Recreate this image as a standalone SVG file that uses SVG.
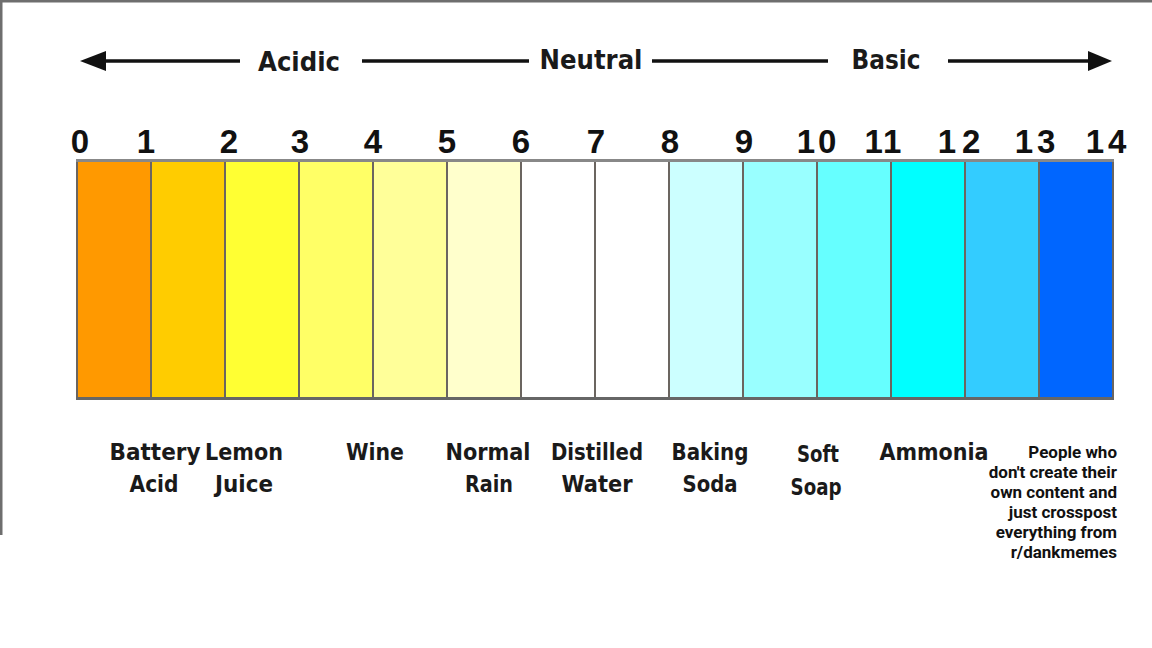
<svg xmlns="http://www.w3.org/2000/svg" width="1152" height="648" viewBox="0 0 1152 648">
<style>
.cell{stroke:#6b6560;stroke-width:2}
.num{font-family:"Liberation Sans",Arial,sans-serif;font-weight:bold;font-size:33px;fill:#111;text-anchor:middle}
.hdr{font-family:"DejaVu Sans Condensed","DejaVu Sans",sans-serif;font-weight:bold;font-size:27px;fill:#1a1a1a;text-anchor:middle}
.lbl{font-family:"DejaVu Sans Condensed","DejaVu Sans",sans-serif;font-weight:bold;font-size:23px;fill:#1a1a1a;text-anchor:middle}
.meme{font-family:Roboto,"Liberation Sans",sans-serif;font-weight:bold;font-size:17px;fill:#111;text-anchor:end}
.ln{stroke:#111;stroke-width:3.5;fill:none}
</style>
<rect width="1152" height="648" fill="#fff"/>
<g id="frame">
<rect x="0" y="0" width="1152" height="2.5" fill="#6e6e6e"/>
<rect x="0" y="0" width="2.5" height="535" fill="#6e6e6e"/>
</g>
<g id="connectors">
<line class="ln" x1="100" y1="61" x2="240" y2="61"/>
<polygon points="80,61 106,51 106,71" fill="#111"/>
<line class="ln" x1="362" y1="61" x2="529" y2="61"/>
<line class="ln" x1="652" y1="61" x2="828" y2="61"/>
<line class="ln" x1="948" y1="61" x2="1094" y2="61"/>
<polygon points="1112,61 1088,51 1088,71" fill="#111"/>
</g>
<g id="headers">
<text class="hdr" x="299" y="71" textLength="82" lengthAdjust="spacingAndGlyphs">Acidic</text>
<text class="hdr" x="591" y="69" textLength="103" lengthAdjust="spacingAndGlyphs">Neutral</text>
<text class="hdr" x="886" y="69" textLength="69" lengthAdjust="spacingAndGlyphs">Basic</text>
</g>
<g id="scale">
<rect class="cell" x="77" y="161" width="74" height="238" fill="#ff9900"/>
<rect class="cell" x="151" y="161" width="74" height="238" fill="#ffcc00"/>
<rect class="cell" x="225" y="161" width="74" height="238" fill="#ffff33"/>
<rect class="cell" x="299" y="161" width="74" height="238" fill="#ffff66"/>
<rect class="cell" x="373" y="161" width="74" height="238" fill="#ffff99"/>
<rect class="cell" x="447" y="161" width="74" height="238" fill="#ffffcc"/>
<rect class="cell" x="521" y="161" width="74" height="238" fill="#ffffff"/>
<rect class="cell" x="595" y="161" width="74" height="238" fill="#ffffff"/>
<rect class="cell" x="669" y="161" width="74" height="238" fill="#ccffff"/>
<rect class="cell" x="743" y="161" width="74" height="238" fill="#99ffff"/>
<rect class="cell" x="817" y="161" width="74" height="238" fill="#66ffff"/>
<rect class="cell" x="891" y="161" width="74" height="238" fill="#00ffff"/>
<rect class="cell" x="965" y="161" width="74" height="238" fill="#33ccff"/>
<rect class="cell" x="1039" y="161" width="74" height="238" fill="#0066ff"/>
<line x1="76" y1="160.5" x2="1114" y2="160.5" stroke="#888" stroke-width="3"/>
<line x1="76" y1="398.5" x2="1114" y2="398.5" stroke="#666" stroke-width="3"/>
</g>
<g id="numbers">
<text class="num" x="80" y="153">0</text>
<text class="num" x="146" y="153">1</text>
<text class="num" x="229" y="153">2</text>
<text class="num" x="300" y="153">3</text>
<text class="num" x="373" y="153">4</text>
<text class="num" x="447" y="153">5</text>
<text class="num" x="521" y="153">6</text>
<text class="num" x="596" y="153">7</text>
<text class="num" x="670" y="153">8</text>
<text class="num" x="744" y="153">9</text>
<text class="num" x="818" y="153" letter-spacing="3">10</text>
<text class="num" x="884" y="153" letter-spacing="2">11</text>
<text class="num" x="962" y="153" letter-spacing="6">12</text>
<text class="num" x="1037" y="153" letter-spacing="4">13</text>
<text class="num" x="1108" y="153" letter-spacing="4">14</text>
</g>
<g id="label-battery-acid">
<text class="lbl" x="155" y="460" textLength="91" lengthAdjust="spacingAndGlyphs">Battery</text>
<text class="lbl" x="154" y="492" textLength="49" lengthAdjust="spacingAndGlyphs">Acid</text>
</g>
<g id="label-lemon-juice">
<text class="lbl" x="244" y="460" textLength="78" lengthAdjust="spacingAndGlyphs">Lemon</text>
<text class="lbl" x="244" y="492" textLength="58" lengthAdjust="spacingAndGlyphs">Juice</text>
</g>
<g id="label-wine">
<text class="lbl" x="375" y="460" textLength="58" lengthAdjust="spacingAndGlyphs">Wine</text>
</g>
<g id="label-normal-rain">
<text class="lbl" x="488" y="460" textLength="85" lengthAdjust="spacingAndGlyphs">Normal</text>
<text class="lbl" x="489" y="492" textLength="48" lengthAdjust="spacingAndGlyphs">Rain</text>
</g>
<g id="label-distilled-water">
<text class="lbl" x="597" y="460" textLength="92" lengthAdjust="spacingAndGlyphs">Distilled</text>
<text class="lbl" x="597" y="492" textLength="71" lengthAdjust="spacingAndGlyphs">Water</text>
</g>
<g id="label-baking-soda">
<text class="lbl" x="710" y="460" textLength="77" lengthAdjust="spacingAndGlyphs">Baking</text>
<text class="lbl" x="710" y="492" textLength="55" lengthAdjust="spacingAndGlyphs">Soda</text>
</g>
<g id="label-soft-soap">
<text class="lbl" x="818" y="462" textLength="42" lengthAdjust="spacingAndGlyphs">Soft</text>
<text class="lbl" x="816" y="495" textLength="51" lengthAdjust="spacingAndGlyphs">Soap</text>
</g>
<g id="label-ammonia">
<text class="lbl" x="934" y="460" textLength="109" lengthAdjust="spacingAndGlyphs">Ammonia</text>
</g>
<g id="label-meme">
<text class="meme" x="1117" y="458">People who</text>
<text class="meme" x="1117" y="478">don't create their</text>
<text class="meme" x="1117" y="498">own content and</text>
<text class="meme" x="1117" y="518">just crosspost</text>
<text class="meme" x="1117" y="538">everything from</text>
<text class="meme" x="1117" y="558">r/dankmemes</text>
</g>
</svg>
